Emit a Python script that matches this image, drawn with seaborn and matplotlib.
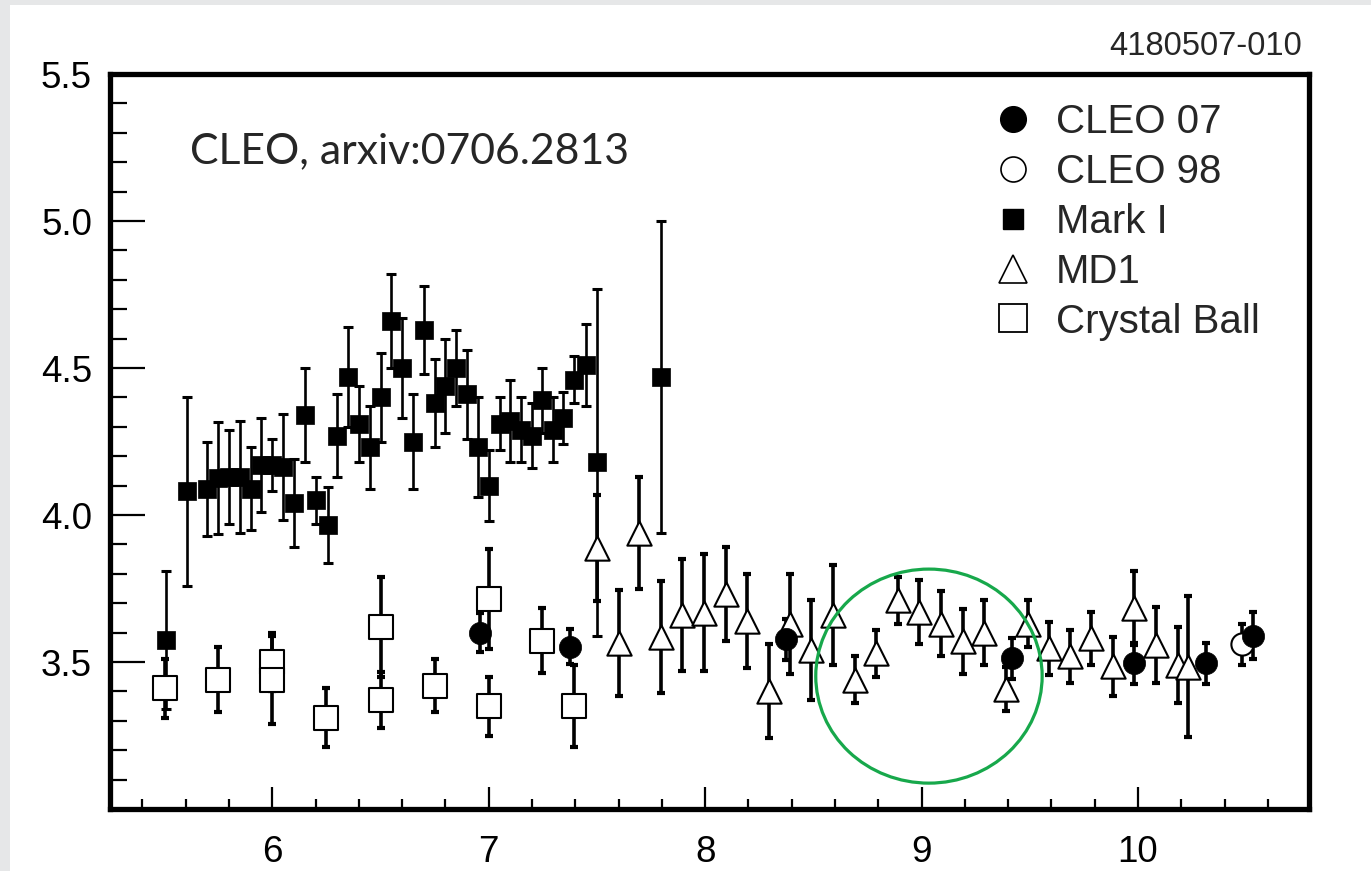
import matplotlib
matplotlib.use("Agg")
import matplotlib.pyplot as plt
from matplotlib.lines import Line2D
from matplotlib.patches import Ellipse, Rectangle
from matplotlib.ticker import MultipleLocator, FixedLocator
import seaborn as sns

# ---- data -----------------------------------------------------------------
# Mark I (filled squares)
mark1_x = [5.51, 5.605, 5.70, 5.75, 5.80, 5.85, 5.90, 5.95, 6.00, 6.05,
           6.10, 6.15, 6.20, 6.255, 6.30, 6.35, 6.40, 6.45, 6.50, 6.55,
           6.60, 6.65, 6.70, 6.75, 6.80, 6.85, 6.90, 6.95, 7.00, 7.05,
           7.10, 7.15, 7.20, 7.245, 7.295, 7.345, 7.395, 7.45, 7.50, 7.795]
mark1_y = [3.575, 4.08, 4.09, 4.125, 4.13, 4.13, 4.09, 4.17, 4.17, 4.163,
           4.04, 4.34, 4.05, 3.966, 4.27, 4.47, 4.31, 4.23, 4.40, 4.66,
           4.50, 4.25, 4.63, 4.38, 4.44, 4.50, 4.41, 4.23, 4.10, 4.31,
           4.32, 4.29, 4.27, 4.39, 4.29, 4.33, 4.46, 4.51, 4.18, 4.47]
mark1_err = [0.235, 0.32, 0.16, 0.19, 0.16, 0.19, 0.14, 0.16, 0.09, 0.18,
             0.15, 0.16, 0.08, 0.13, 0.14, 0.17, 0.13, 0.14, 0.15, 0.16,
             0.17, 0.16, 0.15, 0.15, 0.16, 0.13, 0.15, 0.17, 0.12, 0.09,
             0.14, 0.11, 0.11, 0.11, 0.11, 0.09, 0.08, 0.14, 0.59, 0.53]

# Crystal Ball (open squares)
cb_x = [5.505, 5.75, 6.00, 6.00, 6.25, 6.50, 6.50, 6.75, 7.00, 7.00, 7.245, 7.395]
cb_y = [3.41, 3.44, 3.50, 3.44, 3.31, 3.62, 3.37, 3.42, 3.713, 3.35, 3.572, 3.35]
cb_err = [0.10, 0.11, 0.10, 0.15, 0.10, 0.17, 0.095, 0.09, 0.17, 0.10, 0.11, 0.14]

# MD1 (open triangles)
md1_x = [7.50, 7.60, 7.695, 7.795, 7.894, 7.994, 8.094, 8.194, 8.293, 8.39,
         8.49, 8.59, 8.69, 8.79, 8.89, 8.99, 9.09, 9.19, 9.29, 9.39,
         9.49, 9.59, 9.685, 9.785, 9.885, 9.983, 10.085, 10.184, 10.23]
md1_y = [3.887, 3.566, 3.938, 3.586, 3.66, 3.668, 3.73, 3.64, 3.40, 3.63,
         3.54, 3.66, 3.44, 3.53, 3.71, 3.67, 3.63, 3.57, 3.60, 3.407,
         3.63, 3.547, 3.52, 3.58, 3.486, 3.683, 3.558, 3.49, 3.484]
md1_err = [0.18, 0.18, 0.19, 0.19, 0.19, 0.20, 0.16, 0.16, 0.16, 0.17,
           0.17, 0.17, 0.08, 0.08, 0.08, 0.11, 0.11, 0.11, 0.11, 0.075,
           0.08, 0.09, 0.09, 0.09, 0.10, 0.125, 0.13, 0.13, 0.24]

# CLEO 07 (filled circles)
cleo07_x = [6.96, 7.377, 8.375, 9.42, 9.983, 10.313, 10.53]
cleo07_y = [3.60, 3.552, 3.577, 3.513, 3.495, 3.495, 3.59]
cleo07_err = [0.065, 0.06, 0.07, 0.07, 0.07, 0.07, 0.08]

# CLEO 98 (open circle)
cleo98_x = [10.48]
cleo98_y = [3.56]
cleo98_err = [0.07]

x_major = [6, 7, 8, 9, 10]
y_major = [3.5, 4.0, 4.5, 5.0, 5.5]
y_labels = ["3.5", "4.0", "4.5", "5.0", "5.5"]

highlight_center = (9.034, 3.452)
highlight_size = (1.046, 0.728)

# ---- style ----------------------------------------------------------------
sns.set_theme(style="ticks")
plt.rcParams["font.family"] = ["Liberation Sans", "DejaVu Sans"]

W, H = 1371, 871
fig = plt.figure(figsize=(W / 100, H / 100), dpi=100)
fig.patch.set_facecolor("#e6e7e8")
fig.add_artist(Rectangle((10 / W, 0), 1, 1 - 5 / H, transform=fig.transFigure,
                         facecolor="white", edgecolor="none", zorder=-10))

ax = fig.add_axes([110 / W, 1 - 809 / H, (1309 - 110) / W, (809 - 74) / H])
ax.set_facecolor("white")

ebar_kw = dict(fmt="none", ecolor="black", zorder=2)
ax.errorbar(mark1_x, mark1_y, yerr=mark1_err, elinewidth=1.9, capsize=3.5,
            capthick=2.2, **ebar_kw)
for xs, ys, es in [(cb_x, cb_y, cb_err), (md1_x, md1_y, md1_err),
                   (cleo07_x, cleo07_y, cleo07_err),
                   (cleo98_x, cleo98_y, cleo98_err)]:
    ax.errorbar(xs, ys, yerr=es, elinewidth=2.6, capsize=3.2, capthick=3.0,
                **ebar_kw)

sns.scatterplot(x=cb_x, y=cb_y, marker="s", s=17 ** 2, facecolor="white",
                edgecolor="black", linewidth=1.5, ax=ax, zorder=3)
sns.scatterplot(x=md1_x, y=md1_y, marker="^", s=17.5 ** 2, facecolor="white",
                edgecolor="black", linewidth=1.5, ax=ax, zorder=3)
sns.scatterplot(x=mark1_x, y=mark1_y, marker="s", s=13 ** 2, color="black",
                edgecolor="black", linewidth=0.5, ax=ax, zorder=4)
sns.scatterplot(x=cleo98_x, y=cleo98_y, marker="o", s=16 ** 2, facecolor="white",
                edgecolor="black", linewidth=1.5, ax=ax, zorder=4)
sns.scatterplot(x=cleo07_x, y=cleo07_y, marker="o", s=16 ** 2, color="black",
                edgecolor="black", linewidth=0.5, ax=ax, zorder=5)

ax.add_patch(Ellipse(highlight_center, *highlight_size, fill=False,
                     edgecolor="#17a84b", linewidth=2.3, zorder=6))

# ---- axes -----------------------------------------------------------------
ax.set_xlim(5.25, 10.79)
ax.set_ylim(3.0, 5.5)
ax.xaxis.set_major_locator(FixedLocator(x_major))
ax.xaxis.set_minor_locator(MultipleLocator(0.2))
ax.yaxis.set_major_locator(FixedLocator(y_major))
ax.set_yticklabels(y_labels)
ax.yaxis.set_minor_locator(MultipleLocator(0.1))
ax.tick_params(axis="both", which="both", direction="in", colors="black",
               top=False, right=False, labelsize=26.5)
ax.tick_params(axis="y", which="major", length=25, width=1.6, pad=13)
ax.tick_params(axis="y", which="minor", length=12.5, width=1.6)
ax.tick_params(axis="x", which="major", length=16, width=1.6, pad=19)
ax.tick_params(axis="x", which="minor", length=7.5, width=1.6)
for sp in ax.spines.values():
    sp.set_visible(True)
    sp.set_linewidth(3.8)
    sp.set_color("black")
ax.set_xlabel("")
ax.set_ylabel("")

# ---- legend & annotations ---------------------------------------------------
handles = [
    Line2D([], [], marker="o", ls="none", markersize=18.5, markerfacecolor="black",
           markeredgecolor="black"),
    Line2D([], [], marker="o", ls="none", markersize=18, markerfacecolor="white",
           markeredgecolor="black", markeredgewidth=1.2),
    Line2D([], [], marker="s", ls="none", markersize=15, markerfacecolor="black",
           markeredgecolor="black"),
    Line2D([], [], marker="^", ls="none", markersize=20, markerfacecolor="white",
           markeredgecolor="black", markeredgewidth=1.2),
    Line2D([], [], marker="s", ls="none", markersize=19.5, markerfacecolor="white",
           markeredgecolor="black", markeredgewidth=1.3),
]
labels = ["CLEO 07", "CLEO 98", "Mark I", "MD1", "Crystal Ball"]
ax.legend(handles, labels, loc="upper left",
          bbox_to_anchor=(993 / W, 1 - 103 / H), bbox_transform=fig.transFigure,
          frameon=False, fontsize=29, handlelength=1.0, handletextpad=0.57,
          labelspacing=0.295, borderpad=0, borderaxespad=0)

fig.text(190 / W, 1 - 163 / H, "CLEO, arxiv:0706.2813", fontsize=30.8,
         family=["Lato", "DejaVu Sans"], va="baseline", ha="left")
fig.text(1302 / W, 1 - 55 / H, "4180507-010", fontsize=23.5, va="baseline",
         ha="right")

fig.savefig("out.png", dpi=100, facecolor=fig.get_facecolor())
